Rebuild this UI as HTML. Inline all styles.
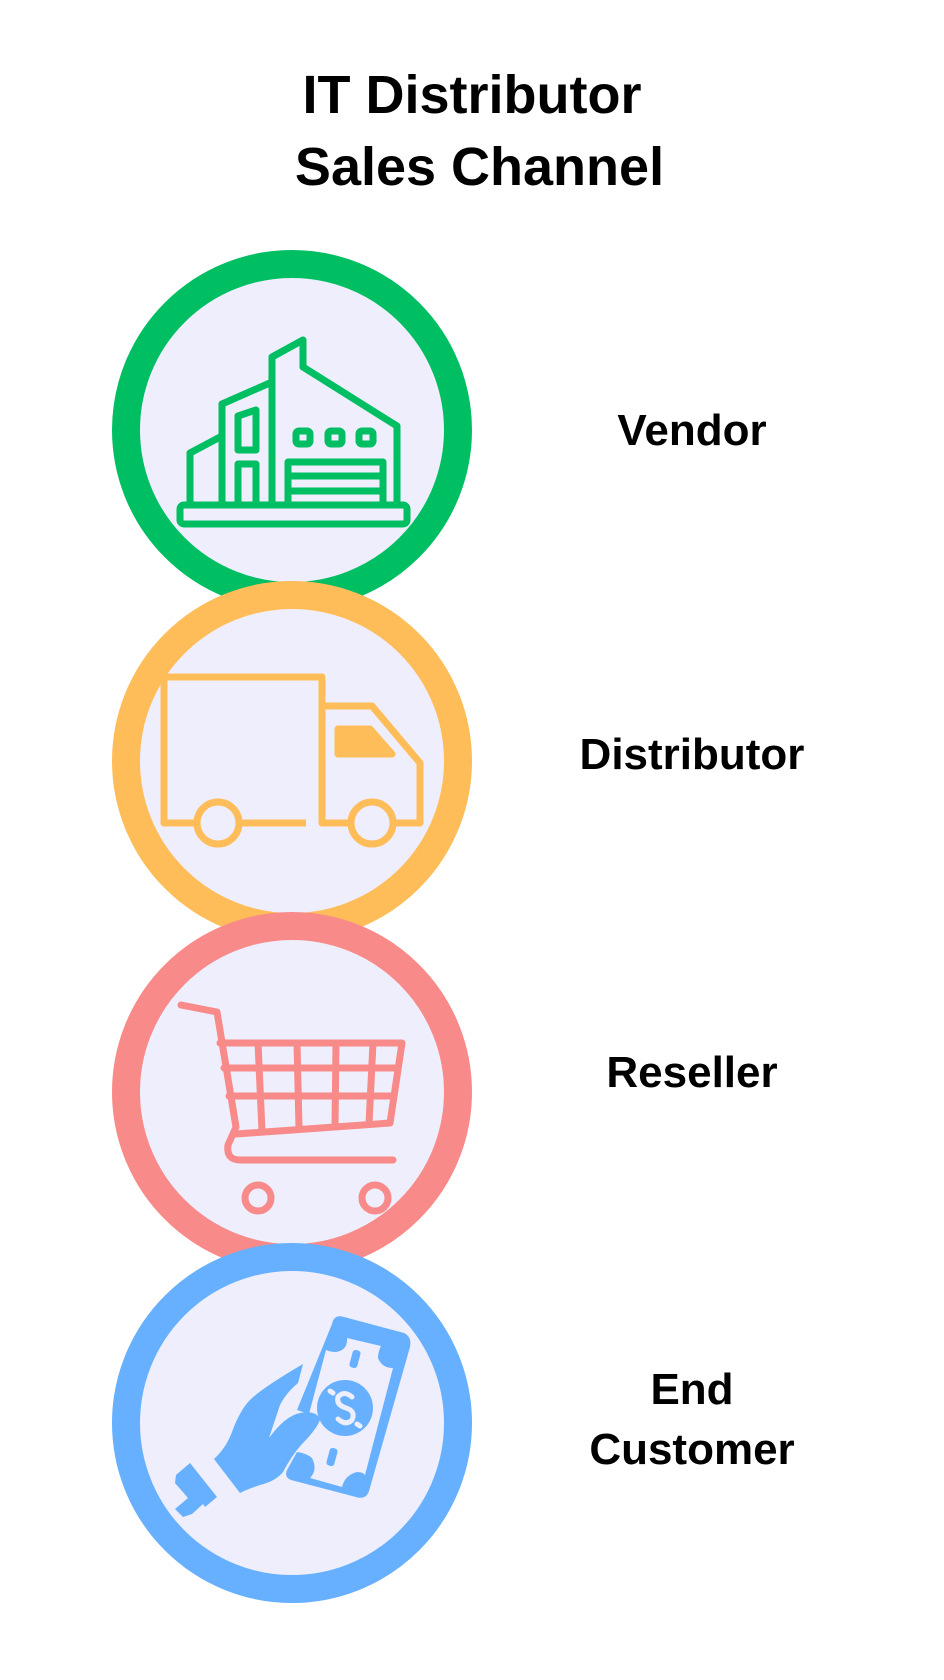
<!DOCTYPE html>
<html><head><meta charset="utf-8"><style>
html,body{margin:0;padding:0;background:#fff;}
body{width:944px;height:1680px;position:relative;overflow:hidden;font-family:"Liberation Sans",sans-serif;}
.t{position:absolute;font-weight:bold;color:#000;text-align:center;}
</style></head><body>
<svg width="944" height="1680" style="position:absolute;left:0;top:0">
<g stroke-width="28" fill="#eeeefc">
<circle cx="292" cy="430" r="166" stroke="#00bf63"/>
<circle cx="292" cy="761" r="166" stroke="#ffbd59"/>
<circle cx="292" cy="1092" r="166" stroke="#f88a89"/>
<circle cx="292" cy="1423" r="166" stroke="#66b0ff"/>
</g>
<g fill="none" stroke="#00bf63" stroke-width="7" stroke-linejoin="round">
<rect x="180" y="505" width="227" height="19" rx="4"/>
<path d="M190 505V453L222 436M222 505V404L272 382M272 505V357L303 340V367L397 426V505"/>
<path d="M238 416L256 410V450H238Z"/>
<path d="M238 505V464H256V505"/>
<rect x="296" y="431" width="14" height="13" rx="3"/>
<rect x="328" y="431" width="14" height="13" rx="3"/>
<rect x="359" y="431" width="14" height="13" rx="3"/>
<path d="M288 505V462H383V505M288 476H383M288 491H383"/>
</g>
<g fill="none" stroke="#ffbd59" stroke-width="7" stroke-linejoin="round">
<path d="M196 823H164V677H322V823H350"/>
<path d="M322 823V706H372L420 763V823H394"/>
<path d="M240 823H306"/>
<path d="M338 729H370L392 754H338Z" fill="#ffbd59"/>
<circle cx="218" cy="823" r="21"/>
<circle cx="372" cy="823" r="21"/>
</g>
<g fill="none" stroke="#f88a89" stroke-width="7" stroke-linecap="round" stroke-linejoin="round">
<path d="M181 1005L217 1012L236 1127L228 1145Q226 1160 240 1160H393"/>
<path d="M220 1043H402L390 1123L236 1134"/>
<path d="M224 1068H398M229 1096H394M258 1043L262 1131M297 1043L299 1128M336 1043L335 1126M373 1043L369 1124"/>
<circle cx="258" cy="1198" r="13"/>
<circle cx="375" cy="1198" r="13"/>
</g>
<g fill="#66b0ff">
<path d="M332 1324Q334 1314 344 1317L404 1333Q412 1337 410 1347L369 1491Q366 1500 356 1497L291 1480Q284 1477 287 1470L297 1452Q306 1453 312 1458Q318 1470 310 1478L342 1487Q345 1475 357 1472Q363 1472 365 1475L393 1368Q382 1368 378 1358Q378 1352 381 1346L347 1338Q348 1350 336 1352Q330 1352 326 1350L309 1414L297 1410Z"/>
<circle cx="345" cy="1408" r="28"/>
<path d="M303 1364L298 1383Q286 1393 280 1405L269 1438Q285 1416 300 1413Q317 1410 320 1420Q316 1430 302 1444Q292 1455 283 1472Q276 1481 260 1485Q245 1490 240 1493L214 1459Q226 1448 232 1432Q240 1410 250 1400Q262 1388 303 1364Z"/>
<path d="M176 1475L190 1463L217 1497L205 1507L203 1504L192 1514L183 1517L175 1509L188 1498L175 1483Z"/>
</g>
<g fill="none" stroke="#eeeefc" stroke-width="5" stroke-linecap="round">
<path d="M352 1397Q344 1390 338 1397Q336 1405 346 1408Q356 1411 352 1420Q346 1426 338 1419M333 1393L330 1391M357 1424L360 1426"/>
</g>
<g fill="#66b0ff">
<rect x="351" y="1350" width="8" height="18" rx="3" transform="rotate(15 355 1359)"/>
<rect x="328" y="1448" width="8" height="18" rx="3" transform="rotate(15 332 1457)"/>
</g>
</svg>
<div class="t" style="left:0;width:944px;top:59px;font-size:54px;line-height:72px;">IT Distributor<br>&nbsp;Sales Channel</div>
<div class="t" style="left:542px;width:300px;top:406px;font-size:44px;">Vendor</div>
<div class="t" style="left:542px;width:300px;top:730px;font-size:44px;">Distributor</div>
<div class="t" style="left:542px;width:300px;top:1048px;font-size:44px;">Reseller</div>
<div class="t" style="left:542px;width:300px;top:1360px;font-size:44px;line-height:60px;">End<br>Customer</div>
</body></html>
